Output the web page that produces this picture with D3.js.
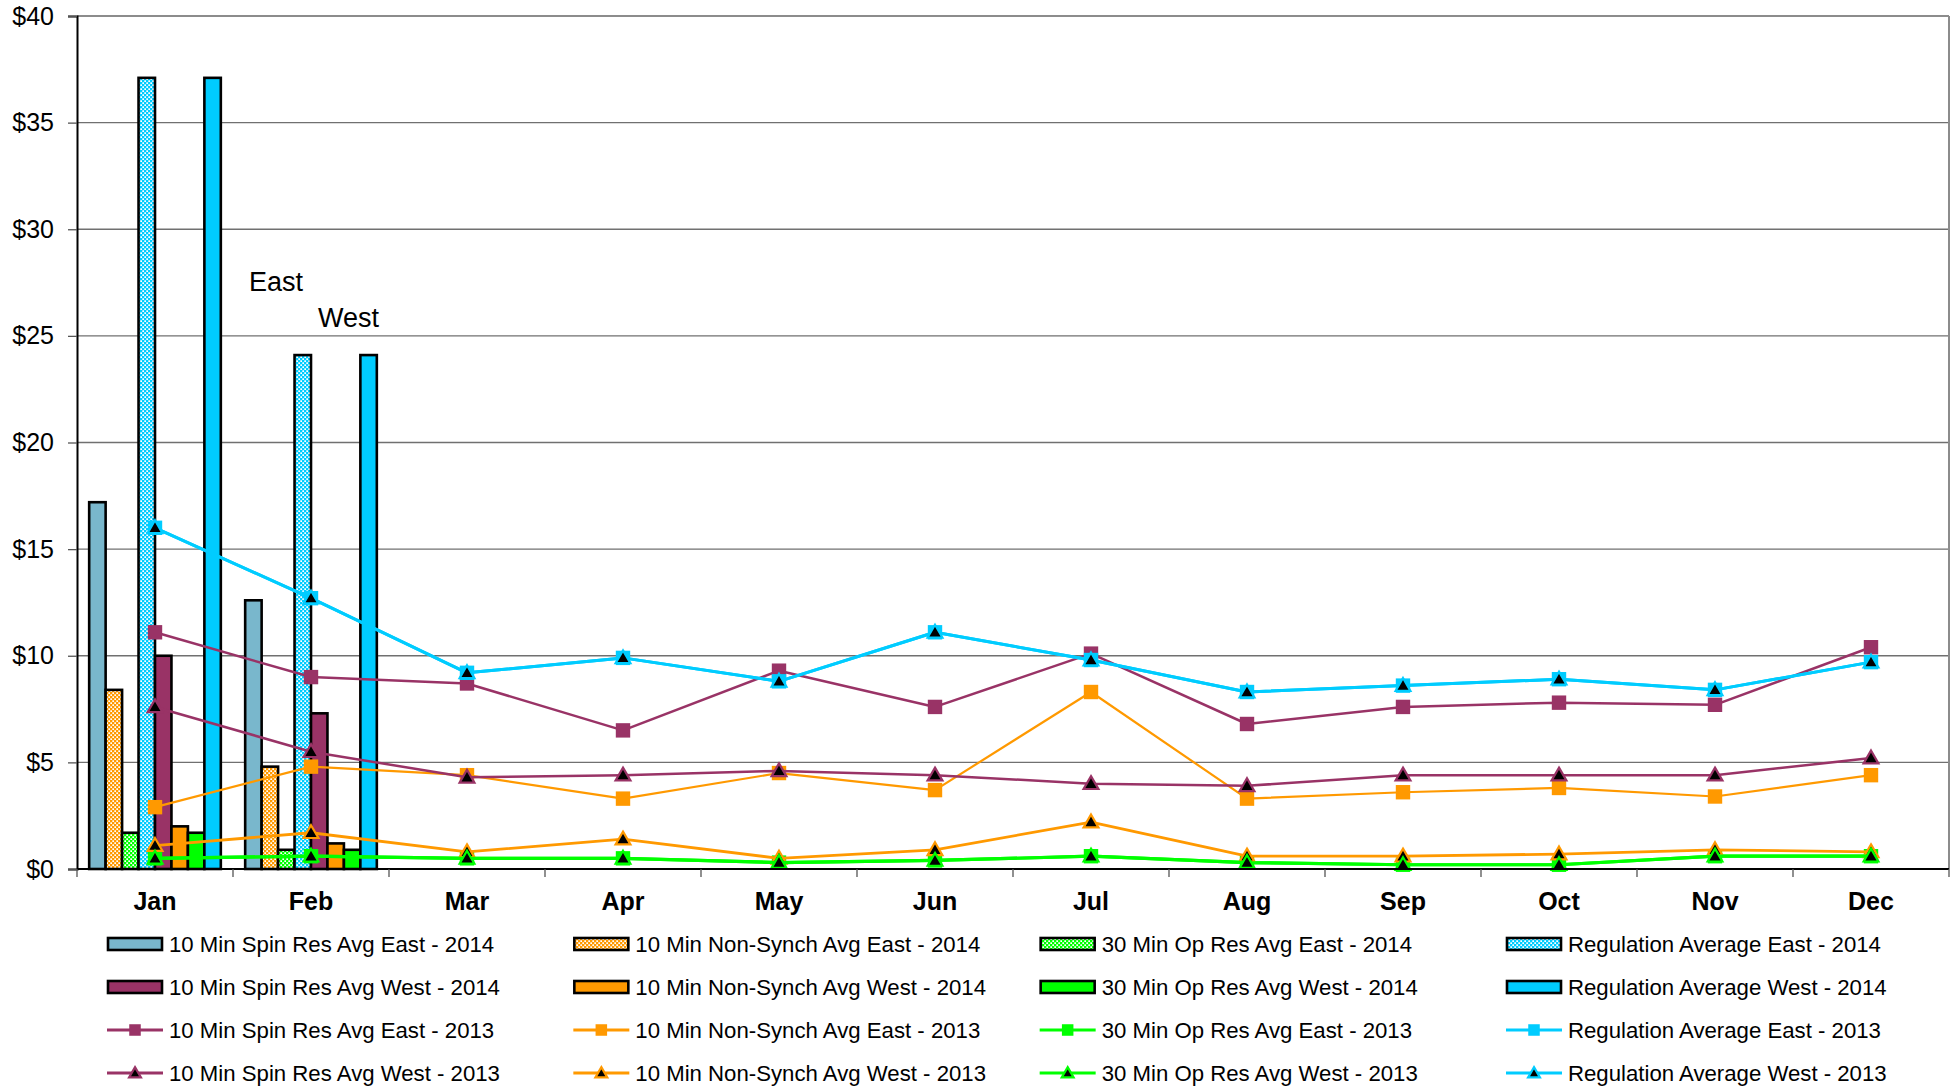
<!DOCTYPE html>
<html>
<head>
<meta charset="utf-8">
<script src="https://cdn.jsdelivr.net/npm/d3@7"></script>
<style>
  html, body { margin: 0; padding: 0; background: #fff; }
  svg { display: block; font-family: "Liberation Sans", Arial, sans-serif; }
</style>
</head>
<body>
<svg id="chart" width="1957" height="1087"></svg>
<script>
// Months on the category axis
const months = ["Jan", "Feb", "Mar", "Apr", "May", "Jun", "Jul", "Aug", "Sep", "Oct", "Nov", "Dec"];

// 2014 monthly averages ($/MWh), available for Jan and Feb only
const spinEast2014 = [17.2, 12.6];
const nonSynchEast2014 = [8.4, 4.8];
const opResEast2014 = [1.7, 0.9];
const regEast2014 = [37.1, 24.1];
const spinWest2014 = [10.0, 7.3];
const nonSynchWest2014 = [2.0, 1.2];
const opResWest2014 = [1.7, 0.9];
const regWest2014 = [37.1, 24.1];

// 2013 monthly averages ($/MWh)
const spinEast2013 = [11.1, 9.0, 8.7, 6.5, 9.3, 7.6, 10.1, 6.8, 7.6, 7.8, 7.7, 10.4];
const nonSynchEast2013 = [2.9, 4.8, 4.4, 3.3, 4.5, 3.7, 8.3, 3.3, 3.6, 3.8, 3.4, 4.4];
const opResEast2013 = [0.5, 0.6, 0.5, 0.5, 0.3, 0.4, 0.6, 0.3, 0.2, 0.2, 0.6, 0.6];
const regEast2013 = [16.0, 12.7, 9.2, 9.9, 8.8, 11.1, 9.8, 8.3, 8.6, 8.9, 8.4, 9.7];
const spinWest2013 = [7.6, 5.5, 4.3, 4.4, 4.6, 4.4, 4.0, 3.9, 4.4, 4.4, 4.4, 5.2];
const nonSynchWest2013 = [1.1, 1.7, 0.8, 1.4, 0.5, 0.9, 2.2, 0.6, 0.6, 0.7, 0.9, 0.8];
const opResWest2013 = [0.5, 0.6, 0.5, 0.5, 0.3, 0.4, 0.6, 0.3, 0.2, 0.2, 0.6, 0.6];
const regWest2013 = [16.0, 12.7, 9.2, 9.9, 8.8, 11.1, 9.8, 8.3, 8.6, 8.9, 8.4, 9.7];

// Y axis ticks
const yTicks = [0, 5, 10, 15, 20, 25, 30, 35, 40];

// Region annotations: [text, month anchor, value anchor]
const regionLabels = [["East", "Feb", 27.1], ["West", "Feb", 25.4]];

// Colours
const C_SPIN_E = "#79B7CC", C_SPIN = "#993366", C_NS = "#FF9900", C_OP = "#00FF00", C_REG = "#00CCFF";

const barSeries = [
  { name: "10 Min Spin Res Avg East - 2014", values: spinEast2014, color: C_SPIN_E, pattern: false },
  { name: "10 Min Non-Synch Avg East - 2014", values: nonSynchEast2014, color: C_NS, pattern: true },
  { name: "30 Min Op Res Avg East - 2014", values: opResEast2014, color: C_OP, pattern: true },
  { name: "Regulation Average East - 2014", values: regEast2014, color: C_REG, pattern: true },
  { name: "10 Min Spin Res Avg West - 2014", values: spinWest2014, color: C_SPIN, pattern: false },
  { name: "10 Min Non-Synch Avg West - 2014", values: nonSynchWest2014, color: C_NS, pattern: false },
  { name: "30 Min Op Res Avg West - 2014", values: opResWest2014, color: C_OP, pattern: false },
  { name: "Regulation Average West - 2014", values: regWest2014, color: C_REG, pattern: false }
];

const lineSeries = [
  { name: "10 Min Spin Res Avg East - 2013", values: spinEast2013, color: C_SPIN, marker: "square", width: 2.5 },
  { name: "10 Min Non-Synch Avg East - 2013", values: nonSynchEast2013, color: C_NS, marker: "square", width: 2.2 },
  { name: "30 Min Op Res Avg East - 2013", values: opResEast2013, color: C_OP, marker: "square", width: 3.2 },
  { name: "Regulation Average East - 2013", values: regEast2013, color: C_REG, marker: "square", width: 3 },
  { name: "10 Min Spin Res Avg West - 2013", values: spinWest2013, color: C_SPIN, marker: "triangle", width: 2.5 },
  { name: "10 Min Non-Synch Avg West - 2013", values: nonSynchWest2013, color: C_NS, marker: "triangle", width: 2.8 },
  { name: "30 Min Op Res Avg West - 2013", values: opResWest2013, color: C_OP, marker: "triangle", width: 3.2 },
  { name: "Regulation Average West - 2013", values: regWest2013, color: C_REG, marker: "triangle", width: 3 }
];

const svg = d3.select("#chart");
const plot = { left: 77, right: 1949, top: 16, bottom: 869 };

// Lattice fills for the hatched bars
const defs = svg.append("defs");
function patternId(color) { return "lat" + color.replace("#", ""); }
[C_NS, C_OP, C_REG].forEach(color => {
  const p = defs.append("pattern").attr("id", patternId(color))
    .attr("patternUnits", "userSpaceOnUse").attr("width", 4).attr("height", 4);
  p.append("rect").attr("width", 4).attr("height", 4).attr("fill", color);
  p.append("rect").attr("x", 0.3).attr("y", 0.3).attr("width", 1.7).attr("height", 1.7).attr("fill", "#fff");
  p.append("rect").attr("x", 2.3).attr("y", 2.3).attr("width", 1.7).attr("height", 1.7).attr("fill", "#fff");
});
const fillOf = s => s.pattern ? `url(#${patternId(s.color)})` : s.color;

// Scales
const x0 = d3.scaleBand().domain(months).range([plot.left, plot.right]).padding(0);
const x1 = d3.scaleBand().domain(barSeries.map(s => s.name))
  .range([0, x0.bandwidth()]).paddingInner(0).paddingOuter(0.74);
const y = d3.scaleLinear().domain([0, 40]).range([plot.bottom, plot.top]);
const cx = m => x0(m) + x0.bandwidth() / 2;

// Gridlines and plot frame
svg.append("g").selectAll("line").data(yTicks.filter(t => t > 0 && t < 40)).join("line")
  .attr("x1", plot.left).attr("x2", plot.right)
  .attr("y1", d => y(d)).attr("y2", d => y(d))
  .attr("stroke", "#707070").attr("stroke-width", 1.3);
svg.append("line").attr("x1", plot.left).attr("x2", plot.right)
  .attr("y1", y(40)).attr("y2", y(40)).attr("stroke", "#8c8c8c").attr("stroke-width", 2);
svg.append("line").attr("x1", plot.right).attr("x2", plot.right)
  .attr("y1", y(40)).attr("y2", y(0)).attr("stroke", "#8c8c8c").attr("stroke-width", 2);

// 2014 bars
const barG = svg.append("g");
barSeries.forEach(s => {
  barG.append("g").selectAll("rect").data(s.values).join("rect")
    .attr("x", (d, i) => x0(months[i]) + x1(s.name))
    .attr("y", d => y(d))
    .attr("width", x1.bandwidth())
    .attr("height", d => y(0) - y(d))
    .attr("fill", fillOf(s))
    .attr("stroke", "#000").attr("stroke-width", 2.6);
});

// Marker drawing
function drawMarker(g, s, px, py, scale = 1) {
  if (s.marker === "square") {
    const h = 7.2 * scale;
    g.append("rect").attr("x", px - h).attr("y", py - h)
      .attr("width", 2 * h).attr("height", 2 * h).attr("fill", s.color);
  } else {
    g.append("path").attr("d", d3.symbol().type(d3.symbolTriangle).size(95 * scale * scale)())
      .attr("transform", `translate(${px},${py + 1})`)
      .attr("fill", "#000").attr("stroke", s.color).attr("stroke-width", 2.2)
      .attr("stroke-linejoin", "miter");
  }
}

// 2013 lines
const lineGen = d3.line().x((d, i) => cx(months[i])).y(d => y(d));
const lineG = svg.append("g");
lineSeries.forEach(s => {
  const g = lineG.append("g");
  g.append("path").datum(s.values).attr("d", lineGen)
    .attr("fill", "none").attr("stroke", s.color).attr("stroke-width", s.width)
    .attr("stroke-linejoin", "round");
  s.values.forEach((v, i) => drawMarker(g, s, cx(months[i]), y(v)));
});

// Y axis
const yAxis = svg.append("g").attr("transform", `translate(${plot.left},0)`)
  .call(d3.axisLeft(y).tickValues(yTicks).tickFormat(d => "$" + d).tickSize(9).tickPadding(14));
yAxis.select(".domain").attr("stroke", "#000").attr("stroke-width", 2);
yAxis.selectAll(".tick line").attr("stroke", "#555").attr("stroke-width", 1.3);
yAxis.selectAll(".tick text").attr("font-size", 25).attr("fill", "#000")
  .attr("font-family", "'Liberation Sans', Arial, sans-serif");

// X axis: ticks on month boundaries, labels centred
const xAxisG = svg.append("g");
xAxisG.append("line").attr("x1", plot.left).attr("x2", plot.right)
  .attr("y1", plot.bottom).attr("y2", plot.bottom).attr("stroke", "#000").attr("stroke-width", 2.2);
xAxisG.selectAll("line.tk").data(months.concat(["end"])).join("line").attr("class", "tk")
  .attr("x1", (d, i) => i < months.length ? x0(d) : plot.right)
  .attr("x2", (d, i) => i < months.length ? x0(d) : plot.right)
  .attr("y1", plot.bottom).attr("y2", plot.bottom + 8)
  .attr("stroke", "#555").attr("stroke-width", 1.3);
xAxisG.selectAll("text").data(months).join("text")
  .attr("x", d => cx(d)).attr("y", plot.bottom + 41)
  .attr("text-anchor", "middle").attr("font-size", 25).attr("font-weight", "bold")
  .text(d => d);

// Region annotations
svg.append("g").selectAll("text").data(regionLabels).join("text")
  .attr("x", (d, i) => x0(d[1]) + (i === 0 ? 16 : 85))
  .attr("y", d => y(d[2]))
  .attr("font-size", 27).attr("fill", "#000")
  .text(d => d[0]);

// Legend: 4 columns x 4 rows
const legendItems = [
  ...barSeries.slice(0, 4).map(s => ({ s, kind: "bar" })),
  ...barSeries.slice(4).map(s => ({ s, kind: "bar" })),
  ...lineSeries.slice(0, 4).map(s => ({ s, kind: "line" })),
  ...lineSeries.slice(4).map(s => ({ s, kind: "line" }))
];
const legX = d3.scaleLinear().domain([0, 3]).range([107, 1506]);
const legY = d3.scaleLinear().domain([0, 3]).range([944, 1073]);
const legend = svg.append("g");
legendItems.forEach((it, k) => {
  const col = k % 4, row = Math.floor(k / 4);
  const lx = legX(col), ly = legY(row);
  const g = legend.append("g");
  if (it.kind === "bar") {
    g.append("rect").attr("x", lx + 1).attr("y", ly - 6).attr("width", 54).attr("height", 12)
      .attr("fill", fillOf(it.s)).attr("stroke", "#000").attr("stroke-width", 2.6);
  } else {
    g.append("line").attr("x1", lx).attr("x2", lx + 56).attr("y1", ly).attr("y2", ly)
      .attr("stroke", it.s.color).attr("stroke-width", 3);
    drawMarker(g, it.s, lx + 28, ly, 0.8);
  }
  g.append("text").attr("x", lx + 62).attr("y", ly + 8)
    .attr("font-size", 22.2).attr("fill", "#000").text(it.s.name);
});
</script>
</body>
</html>
